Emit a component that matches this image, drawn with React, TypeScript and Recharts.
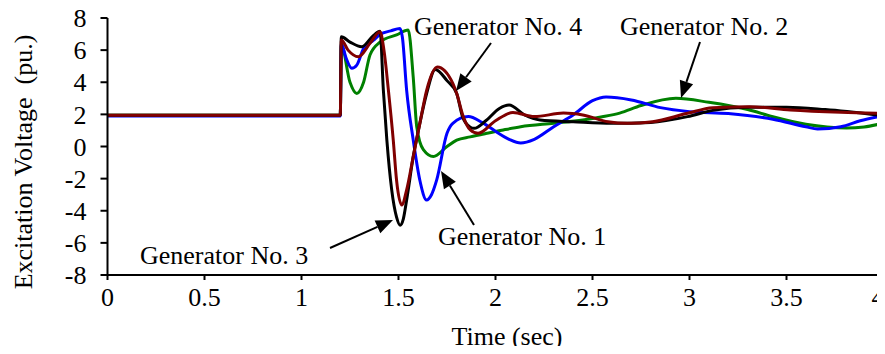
import React from 'react';
import { LineChart, Line, XAxis, YAxis } from 'recharts';

// time (sec) and excitation voltage (pu.) for each generator
const gen1Time = [0, 1.2, 1.205, 1.23, 1.259, 1.285, 1.32, 1.37, 1.405, 1.46, 1.508, 1.52, 1.542, 1.576, 1.61, 1.645, 1.67, 1.697, 1.75, 1.78, 1.86, 1.93, 2.0, 2.07, 2.13, 2.2, 2.3, 2.4, 2.5, 2.57, 2.7, 2.85, 3.0, 3.2, 3.43, 3.6, 3.66, 3.78, 3.88, 4.0];
const gen1Volt = [1.9, 1.9, 6.4, 5.5, 4.87, 5.07, 6.1, 6.6, 6.98, 7.2, 7.35, 6.8, 3.5, 0.4, -2.1, -3.33, -3.0, -2.08, 0.82, 1.44, 1.86, 1.5, 0.95, 0.45, 0.22, 0.45, 1.23, 1.96, 2.85, 3.08, 2.9, 2.42, 2.17, 2.05, 1.7, 1.23, 1.09, 1.23, 1.6, 1.93];

const gen2Time = [0, 1.2, 1.205, 1.25, 1.285, 1.32, 1.353, 1.405, 1.49, 1.55, 1.576, 1.594, 1.628, 1.68, 1.75, 1.8, 1.87, 1.955, 2.04, 2.13, 2.3, 2.45, 2.55, 2.64, 2.75, 2.93, 3.1, 3.3, 3.43, 3.6, 3.81, 3.9, 4.0];
const gen2Volt = [1.95, 1.95, 6.32, 4.0, 3.3, 4.0, 5.7, 6.5, 6.95, 7.25, 4.3, 1.23, -0.2, -0.63, 0, 0.4, 0.6, 0.82, 1.03, 1.23, 1.45, 1.65, 1.85, 2.08, 2.55, 3.0, 2.75, 2.3, 1.85, 1.38, 1.15, 1.22, 1.45];

const gen3Time = [0, 1.2, 1.205, 1.25, 1.31, 1.37, 1.405, 1.422, 1.44, 1.465, 1.49, 1.508, 1.525, 1.542, 1.576, 1.61, 1.645, 1.69, 1.75, 1.8, 1.83, 1.87, 1.89, 1.95, 2.02, 2.07, 2.15, 2.23, 2.4, 2.6, 2.8, 2.99, 3.12, 3.3, 3.5, 3.7, 4.0];
const gen3Volt = [1.95, 1.95, 6.83, 6.5, 6.21, 6.9, 7.18, 3.5, 0.4, -2.7, -4.4, -4.9, -4.5, -3.33, -0.63, 1.44, 3.3, 4.8, 4.1, 3.3, 1.86, 1.2, 1.13, 1.6, 2.37, 2.58, 1.96, 1.65, 1.54, 1.44, 1.5, 1.86, 2.25, 2.45, 2.45, 2.3, 1.92];

const gen4Time = [0, 1.2, 1.205, 1.24, 1.293, 1.353, 1.405, 1.425, 1.448, 1.473, 1.49, 1.517, 1.542, 1.576, 1.61, 1.645, 1.7, 1.78, 1.8, 1.834, 1.87, 1.91, 2.0, 2.09, 2.2, 2.35, 2.45, 2.58, 2.68, 2.81, 2.99, 3.12, 3.31, 3.52, 3.78, 4.0];
const gen4Volt = [1.95, 1.95, 6.63, 6.0, 5.59, 6.42, 7.14, 6.0, 3.5, 0.4, -2.1, -3.64, -2.7, -0.63, 1.44, 3.5, 4.95, 3.93, 3.3, 1.86, 1.03, 0.82, 1.6, 2.12, 1.86, 2.08, 1.96, 1.54, 1.44, 1.54, 2.07, 2.41, 2.48, 2.27, 2.13, 2.07];

const xTicks = [0, 0.5, 1, 1.5, 2, 2.5, 3, 3.5, 4];
const yTicks = [-8, -6, -4, -2, 0, 2, 4, 6, 8];

const toPoints = (ts: number[], vs: number[]) => ts.map((t, i) => ({ t, v: vs[i] }));

// drawn in this order: green, blue, black, red on top
const series = [
  { name: 'Generator No. 2', data: toPoints(gen2Time, gen2Volt), color: '#008000' },
  { name: 'Generator No. 1', data: toPoints(gen1Time, gen1Volt), color: '#0000ff' },
  { name: 'Generator No. 3', data: toPoints(gen3Time, gen3Volt), color: '#000000' },
  { name: 'Generator No. 4', data: toPoints(gen4Time, gen4Volt), color: '#800000' },
];

const FONT = '"Liberation Serif", "Times New Roman", serif';

// last x label sits at the right edge, so anchor it at its end to keep it in view
const TimeTick = ({ x, y, payload }: any) => {
  const last = payload.value === xTicks[xTicks.length - 1];
  return (
    <text x={last ? x + 1 : x} y={y} dy="0.71em" textAnchor={last ? 'end' : 'middle'} fill="#000" fontSize={26} fontFamily={FONT}>
      {payload.value}
    </text>
  );
};

const Arrow = ({ x1, y1, x2, y2 }: { x1: number; y1: number; x2: number; y2: number }) => {
  const len = Math.hypot(x2 - x1, y2 - y1);
  const ux = (x2 - x1) / len;
  const uy = (y2 - y1) / len;
  const head = 17;
  const half = 7;
  const bx = x2 - ux * head;
  const by = y2 - uy * head;
  const pts = `${x2},${y2} ${bx - uy * half},${by + ux * half} ${bx + uy * half},${by - ux * half}`;
  return (
    <g>
      <line x1={x1} y1={y1} x2={bx} y2={by} stroke="#000" strokeWidth={2} />
      <polygon points={pts} fill="#000" />
    </g>
  );
};

export default function App() {
  const tickStyle = { fill: '#000', fontSize: 26, fontFamily: FONT };
  return (
    <div style={{ position: 'relative', width: 885, height: 354, margin: -8, background: '#fff', fontFamily: FONT }}>
      <LineChart width={885} height={354} margin={{ top: 18, right: 1.5, bottom: 0, left: 7.5 }}>
        <XAxis
          type="number"
          dataKey="t"
          domain={[0, 4]}
          ticks={xTicks}
          interval={0}
          allowDataOverflow
          height={79}
          tick={<TimeTick />}
          tickSize={5}
          tickMargin={8}
          axisLine={{ stroke: '#000', strokeWidth: 2 }}
          tickLine={{ stroke: '#000', strokeWidth: 2 }}
        />
        <YAxis
          type="number"
          dataKey="v"
          domain={[-8, 8]}
          ticks={yTicks}
          interval={0}
          allowDataOverflow
          width={100}
          tick={tickStyle}
          tickSize={7}
          tickMargin={14}
          axisLine={{ stroke: '#000', strokeWidth: 2 }}
          tickLine={{ stroke: '#000', strokeWidth: 2 }}
        />
        {series.map((s) => (
          <Line
            key={s.name}
            name={s.name}
            data={s.data}
            dataKey="v"
            type="monotone"
            stroke={s.color}
            strokeWidth={3}
            dot={false}
            activeDot={false}
            isAnimationActive={false}
          />
        ))}
      </LineChart>
      <svg width={885} height={354} style={{ position: 'absolute', left: 0, top: 0, pointerEvents: 'none' }}>
        <g fontFamily={FONT} fontSize={26} fill="#000">
          <text x={32} y={162} textAnchor="middle" transform="rotate(-90 32 162)" style={{ whiteSpace: 'pre' }}>
            {'Excitation Voltage  (pu.)'}
          </text>
          <text x={507} y={345} textAnchor="middle">Time (sec)</text>
          <text x={414} y={35}>Generator No. 4</text>
          <text x={620} y={35}>Generator No. 2</text>
          <text x={438} y={245}>Generator No. 1</text>
          <text x={140} y={264}>Generator No. 3</text>
        </g>
        <Arrow x1={491} y1={43} x2={456} y2={91} />
        <Arrow x1={700} y1={42} x2={681} y2={98} />
        <Arrow x1={474} y1={225} x2={441} y2={171} />
        <Arrow x1={330} y1={248} x2={393} y2={220} />
      </svg>
    </div>
  );
}
